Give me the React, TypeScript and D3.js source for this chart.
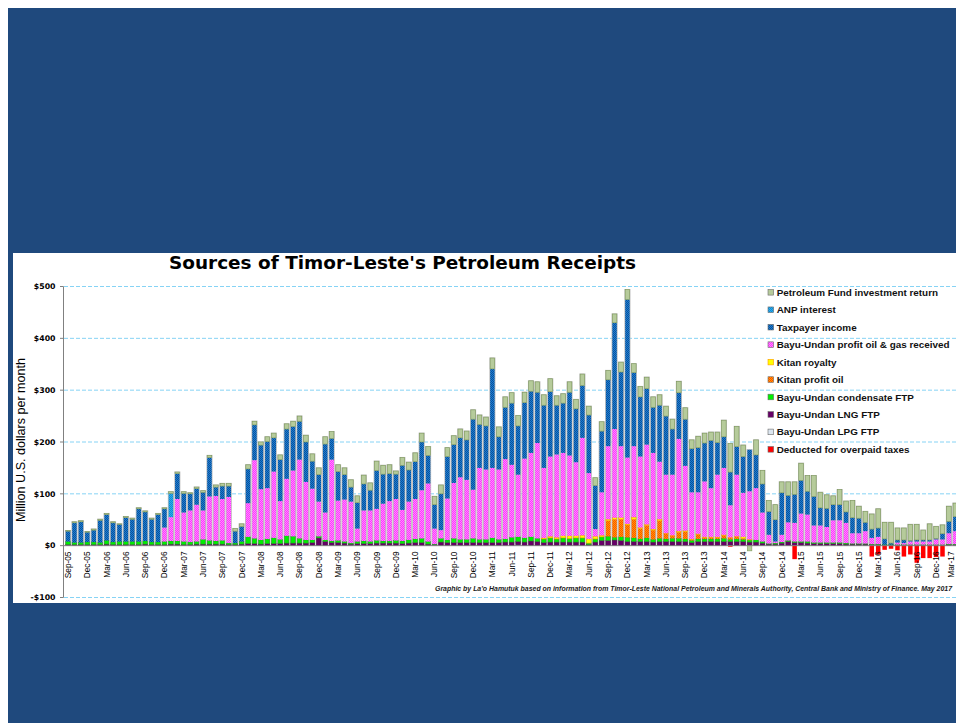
import React from "react";
import * as d3 from "d3";

const months: string[] = [
  "Sep-05","Oct-05","Nov-05","Dec-05",
  "Jan-06","Feb-06","Mar-06","Apr-06","May-06","Jun-06","Jul-06","Aug-06","Sep-06","Oct-06","Nov-06","Dec-06",
  "Jan-07","Feb-07","Mar-07","Apr-07","May-07","Jun-07","Jul-07","Aug-07","Sep-07","Oct-07","Nov-07","Dec-07",
  "Jan-08","Feb-08","Mar-08","Apr-08","May-08","Jun-08","Jul-08","Aug-08","Sep-08","Oct-08","Nov-08","Dec-08",
  "Jan-09","Feb-09","Mar-09","Apr-09","May-09","Jun-09","Jul-09","Aug-09","Sep-09","Oct-09","Nov-09","Dec-09",
  "Jan-10","Feb-10","Mar-10","Apr-10","May-10","Jun-10","Jul-10","Aug-10","Sep-10","Oct-10","Nov-10","Dec-10",
  "Jan-11","Feb-11","Mar-11","Apr-11","May-11","Jun-11","Jul-11","Aug-11","Sep-11","Oct-11","Nov-11","Dec-11",
  "Jan-12","Feb-12","Mar-12","Apr-12","May-12","Jun-12","Jul-12","Aug-12","Sep-12","Oct-12","Nov-12","Dec-12",
  "Jan-13","Feb-13","Mar-13","Apr-13","May-13","Jun-13","Jul-13","Aug-13","Sep-13","Oct-13","Nov-13","Dec-13",
  "Jan-14","Feb-14","Mar-14","Apr-14","May-14","Jun-14","Jul-14","Aug-14","Sep-14","Oct-14","Nov-14","Dec-14",
  "Jan-15","Feb-15","Mar-15","Apr-15","May-15","Jun-15","Jul-15","Aug-15","Sep-15","Oct-15","Nov-15","Dec-15",
  "Jan-16","Feb-16","Mar-16","Apr-16","May-16","Jun-16","Jul-16","Aug-16","Sep-16","Oct-16","Nov-16","Dec-16",
  "Jan-17","Feb-17","Mar-17",
];

// Values in million US$ per month, one per month from Sep-05
const lpgFTP = [
  0,0,0,0,0,0,0,0,0,0,0,0,
  0,0,0,0,0,0,0,0,0,0,0,0,
  0,0,0,0,0,0,0,0,0,0,0,0,
  0,0,0,0,0,0,0,0,0,0,0,0,
  0,0,0,0,0,0,0,0,0,1,0,0,
  0,0,0,0,0,0,0,0,0,0,2,0,
  0,0,0,0,0,0,0,0,0,0,0,0,
  0,0,0,0,0,0,0,0,0,0,0,0,
  0,0,0,0,0,0,0,0,0,0,0,0,
  0,0,0,0,0,0,0,0,0,0,0,0,
  0,0,0,0,0,0,0,0,0,0,0,0,
  0,0,0,0,0,0,0,
];
const lngFTP = [
  2,2,2,2,2,2,3,2,2,2,2,2,
  3,2,2,2,3,3,2,2,3,3,3,3,
  3,2,2,3,4,4,3,4,4,4,5,5,
  5,5,6,15,8,6,6,5,3,4,4,4,
  5,5,5,5,4,5,6,6,3,1,7,6,
  6,6,6,6,6,6,6,6,7,7,6,7,
  9,8,6,7,7,7,7,7,7,2,7,10,
  10,11,10,8,8,8,8,7,8,8,8,8,
  8,6,8,8,8,8,8,8,8,8,7,7,
  5,3,3,5,8,6,6,5,4,4,4,4,
  4,3,3,3,3,2,2,1,1,1,1,1,
  1,1,1,1,1,2,2,
];
const condensateFTP = [
  6,4,4,5,5,4,7,5,6,6,6,6,
  6,5,5,6,6,6,6,5,5,9,7,6,
  7,3,3,5,13,10,8,9,11,8,14,13,
  9,6,5,3,3,3,4,3,2,4,5,4,
  5,4,4,5,5,6,7,8,5,1,7,5,
  8,6,6,8,6,6,9,6,6,9,9,8,
  8,6,7,8,6,8,7,8,8,3,6,7,
  8,5,7,8,7,5,7,5,6,5,6,6,
  5,4,5,5,5,5,6,4,5,4,4,4,
  3,1,2,2,2,2,2,3,2,2,2,2,
  2,2,1,1,1,1,1,1,1,1,1,1,
  1,1,1,1,1,1,1,
];
const kitanProfitOil = [
  0,0,0,0,0,0,0,0,0,0,0,0,
  0,0,0,0,0,0,0,0,0,0,0,0,
  0,0,0,0,0,0,0,0,0,0,0,0,
  0,0,0,0,0,0,0,0,0,0,0,0,
  0,0,0,0,0,0,0,0,0,0,0,0,
  0,0,0,0,0,0,0,0,0,0,0,0,
  0,0,0,0,0,0,0,0,0,0,0,0,
  30,35,34,24,36,20,24,18,34,10,5,12,
  14,2,9,3,3,3,6,3,4,2,0,0,
  0,0,0,0,0,0,0,0,0,0,0,0,
  0,0,0,0,0,0,0,0,0,0,0,0,
  0,0,0,0,0,0,0,
];
const kitanRoyalty = [
  0,0,0,0,0,0,0,0,0,0,0,0,
  0,0,0,0,0,0,0,0,0,0,0,0,
  0,0,0,0,0,0,0,0,0,0,0,0,
  0,0,0,0,0,0,0,0,0,0,0,0,
  0,0,0,0,0,0,0,0,0,0,0,0,
  0,0,0,0,0,0,0,0,0,0,0,0,
  0,0,2,3,3,4,5,4,5,8,5,3,
  3,3,3,2,4,2,2,2,3,1,1,2,
  2,1,1,1,1,1,1,1,1,3,1,0,
  0,0,0,0,0,0,0,0,0,0,0,0,
  0,0,0,0,0,0,0,0,0,0,0,0,
  0,0,0,0,0,0,0,
];
const bayuUndanProfit = [
  0,0,0,0,0,0,0,0,0,0,0,0,
  0,0,0,27,46,81,56,61,71,56,85,87,
  80,89,0,0,65,151,98,98,128,74,110,127,
  152,112,99,67,53,157,77,81,80,25,59,60,
  61,72,77,80,60,74,77,93,112,30,16,80,
  107,120,115,94,138,135,135,135,154,140,120,153,
  162,184,135,154,160,160,155,142,188,127,14,83,
  141,171,138,128,137,137,154,147,111,113,117,178,
  125,90,80,107,94,120,129,62,119,85,93,100,
  56,17,3,14,35,36,54,52,33,33,30,43,
  43,39,20,20,24,12,14,0,0,4,3,6,
  6,6,6,10,10,21,25,
];
const taxpayerIncome = [
  20,38,40,19,23,43,50,37,33,46,43,63,
  56,44,53,36,0,49,37,32,31,35,75,17,
  25,21,23,29,66,68,85,90,65,80,96,85,
  74,77,53,52,132,41,56,48,28,50,51,39,
  74,57,53,48,86,61,72,93,54,46,70,81,
  74,76,77,136,84,84,191,63,100,119,94,108,
  119,98,121,125,95,96,122,103,101,112,84,118,
  128,205,143,305,142,115,108,88,109,113,88,89,
  90,84,86,74,92,62,60,64,54,70,80,64,
  55,45,42,81,52,55,64,45,56,34,36,30,
  30,21,30,29,17,17,17,11,3,5,6,2,
  3,3,3,2,11,23,28,
];
const anpInterest = [
  0,0,0,0,0,0,0,0,0,0,0,0,
  0,0,0,0,46,0,0,0,0,0,0,0,
  0,0,0,0,0,0,0,0,0,0,0,0,
  0,0,0,0,0,0,0,0,0,0,0,0,
  0,0,0,0,0,0,0,0,0,0,0,0,
  0,0,0,0,0,0,0,0,0,0,0,0,
  0,0,0,0,0,0,0,0,0,0,0,0,
  0,0,0,0,0,0,0,0,0,0,0,0,
  0,0,0,0,0,0,0,0,0,0,0,0,
  0,0,0,0,0,0,0,0,0,0,0,0,
  0,0,0,0,0,0,0,0,0,0,0,0,
  0,0,0,0,0,0,0,
];
const pfInvestmentReturn = [
  1,2,2,1,2,2,2,2,1,2,2,2,
  2,2,2,2,3,3,3,2,3,3,4,4,
  5,5,5,5,8,7,6,9,9,9,10,10,
  10,13,14,13,14,13,13,13,14,13,17,14,
  18,17,17,6,15,15,17,17,17,16,17,17,
  17,17,17,18,18,17,21,19,20,20,20,20,
  20,20,20,25,18,18,20,18,22,17,15,18,
  18,17,19,19,17,20,22,20,20,19,19,22,
  22,17,22,19,16,20,32,55,39,22,-10,29,
  26,21,29,21,26,24,33,30,40,30,26,17,
  29,21,33,23,21,29,37,32,40,23,23,31,
  30,19,31,23,17,29,26,
];
const deductedOverpaid = [
  0,0,0,0,0,0,0,0,0,0,0,0,
  0,0,0,0,0,0,0,0,0,0,0,0,
  0,0,0,0,0,0,0,0,0,0,0,0,
  0,0,0,0,0,0,0,0,0,0,0,0,
  0,0,0,0,0,0,0,0,0,0,0,0,
  0,0,0,0,0,0,0,0,0,0,0,0,
  0,0,0,0,0,0,0,0,0,0,0,0,
  0,0,0,0,0,0,0,0,0,0,0,0,
  0,0,0,0,0,0,0,-2,0,0,0,0,
  0,0,0,0,0,-26,0,0,0,0,0,0,
  0,0,0,0,0,-21,-17,-8,-6,-9,-21,-17,
  -33,-24,-24,-22,-21,0,0,
];

const yTicks = [-100, 0, 100, 200, 300, 400, 500];

const seriesDefs = [
  { key: "lpg", label: "Bayu-Undan LPG FTP", fill: "#DCE6F0", stroke: "#8E9AA6" },
  { key: "lng", label: "Bayu-Undan LNG FTP", fill: "#660066", stroke: "#4A004A" },
  { key: "cond", label: "Bayu-Undan condensate FTP", fill: "#00F000", stroke: "#2A9A2A" },
  { key: "kpo", label: "Kitan profit oil", fill: "url(#pKitan)", stroke: "none" },
  { key: "kroy", label: "Kitan royalty", fill: "#FFFF00", stroke: "#FF9900" },
  { key: "bu", label: "Bayu-Undan profit oil & gas received", fill: "url(#pMag)", stroke: "none" },
  { key: "tax", label: "Taxpayer income", fill: "url(#pTax)", stroke: "none" },
  { key: "anp", label: "ANP interest", fill: "url(#pAnp)", stroke: "none" },
  { key: "pf", label: "Petroleum Fund investment return", fill: "#B6CB9B", stroke: "#7F9A5C" },
  { key: "ded", label: "Deducted for overpaid taxes", fill: "#FF0000", stroke: "none" },
];
const legendOrder = ["pf", "anp", "tax", "bu", "kroy", "kpo", "cond", "lng", "lpg", "ded"];

export default function App() {
  const W = 956;
  const H = 723;
  const n = months.length;
  const step = 6.43;
  const x0 = 64.8;
  const x = d3
    .scaleBand<number>()
    .domain(d3.range(n))
    .range([x0, x0 + n * step])
    .paddingInner(0.3)
    .paddingOuter(0.15);
  const y = d3.scaleLinear().domain([-100, 500]).range([597.5, 286.5]);
  const bw = x.bandwidth();

  const rows = months.map((m, i) => ({
    month: m,
    lpg: lpgFTP[i],
    lng: lngFTP[i],
    cond: condensateFTP[i],
    kpo: kitanProfitOil[i],
    kroy: kitanRoyalty[i],
    bu: bayuUndanProfit[i],
    tax: taxpayerIncome[i],
    anp: anpInterest[i],
    pf: pfInvestmentReturn[i],
    ded: deductedOverpaid[i],
  }));
  const keys = seriesDefs.map((s) => s.key);
  const layers = d3
    .stack<any>()
    .keys(keys)
    .offset(d3.stackOffsetDiverging)(rows as any);

  const posTop = rows.map((_, i) => d3.max(layers, (l) => l[i][1]) as number);
  const defByKey: Record<string, any> = {};
  seriesDefs.forEach((s) => (defByKey[s.key] = s));

  const fmt = (v: number) => (v < 0 ? `-$${-v}` : `$${v}`);

  return (
    <svg
      width={W}
      height={H}
      style={{ position: "fixed", left: 0, top: 0, background: "#ffffff" }}
    >
      <defs>
        <pattern id="pTax" width="2" height="2" patternUnits="userSpaceOnUse">
          <rect width="2" height="2" fill="#1B7DD3" />
          <rect width="1" height="1" fill="#0C5199" />
          <rect x="1" y="1" width="1" height="1" fill="#0C5199" />
        </pattern>
        <pattern id="pAnp" width="2" height="2" patternUnits="userSpaceOnUse">
          <rect width="2" height="2" fill="#2AAEEE" />
          <rect width="1" height="1" fill="#1488D0" />
          <rect x="1" y="1" width="1" height="1" fill="#1488D0" />
        </pattern>
        <pattern id="pMag" width="2" height="2" patternUnits="userSpaceOnUse">
          <rect width="2" height="2" fill="#FF33FF" />
          <rect width="1" height="1" fill="#FF8CFF" />
          <rect x="1" y="1" width="1" height="1" fill="#FF8CFF" />
        </pattern>
        <pattern id="pKitan" width="2" height="2" patternUnits="userSpaceOnUse">
          <rect width="2" height="2" fill="#FFA000" />
          <rect width="1" height="1" fill="#FF4A00" />
          <rect x="1" y="1" width="1" height="1" fill="#FF4A00" />
        </pattern>
      </defs>

      {/* slide background */}
      <rect x={8} y={8} width={W - 8} height={H - 8} fill="#1F497D" />
      {/* chart panel */}
      <rect x={13} y={253} width={W - 13} height={350} fill="#FFFFFF" />

      {/* title */}
      <text
        x={402.5}
        y={268.5}
        textAnchor="middle"
        fontFamily="'DejaVu Sans', Verdana, sans-serif"
        fontWeight="bold"
        fontSize={18}
        textLength={467}
        lengthAdjust="spacingAndGlyphs"
        fill="#000"
      >
        Sources of Timor-Leste's Petroleum Receipts
      </text>

      {/* gridlines */}
      {yTicks
        .filter((t) => t !== 0)
        .map((t) => (
          <line
            key={"g" + t}
            x1={64}
            x2={W}
            y1={y(t)}
            y2={y(t)}
            stroke="#86D3F5"
            strokeWidth={1}
            strokeDasharray="4 2"
          />
        ))}

      {/* bar outlines */}
      {rows.map((r, i) => {
        const top = posTop[i];
        if (!top) return null;
        return (
          <rect
            key={"o" + i}
            x={(x(i) as number) - 0.8}
            y={y(top) - 0.6}
            width={bw + 1.6}
            height={y(0) - y(top) + 0.6}
            fill="#BDBDBD"
          />
        );
      })}

      {/* stacked segments */}
      {layers.map((layer) => {
        const def = defByKey[layer.key];
        return (
          <g key={layer.key}>
            {layer.map((d, i) => {
              const v0 = d[0];
              const v1 = d[1];
              if (v0 === v1) return null;
              const yt = y(Math.max(v0, v1));
              const yb = y(Math.min(v0, v1));
              return (
                <rect
                  key={i}
                  x={x(i) as number}
                  y={yt}
                  width={bw}
                  height={Math.max(0.5, yb - yt)}
                  fill={def.fill}
                  stroke={def.stroke}
                  strokeWidth={def.stroke === "none" ? 0 : 0.6}
                />
              );
            })}
          </g>
        );
      })}

      {/* axes */}
      <line x1={64} x2={W} y1={y(0)} y2={y(0)} stroke="#808080" strokeWidth={1} />
      <line x1={63.5} x2={63.5} y1={y(500)} y2={y(-100)} stroke="#808080" strokeWidth={1} />
      {yTicks.map((t) => (
        <g key={"t" + t}>
          <line x1={60} x2={63.5} y1={y(t)} y2={y(t)} stroke="#808080" strokeWidth={1} />
          <text
            x={55.5}
            y={y(t) + 2.8}
            textAnchor="end"
            fontFamily="'DejaVu Sans', Verdana, sans-serif"
            fontWeight="bold"
            fontSize={7.8}
            fill="#000"
          >
            {fmt(t)}
          </text>
        </g>
      ))}

      {/* x tick labels */}
      {months.map((m, i) =>
        i % 3 === 0 ? (
          <text
            key={"xl" + i}
            transform={`translate(${Math.min((x(i) as number) + bw / 2, 951)},551.5) rotate(-90)`}
            textAnchor="end"
            dy="0.35em"
            fontFamily="'Liberation Sans', Arial, sans-serif"
            fontSize={8.3}
            fill="#000"
          >
            {m}
          </text>
        ) : null
      )}

      {/* y axis title */}
      <text
        transform="translate(25,440) rotate(-90)"
        textAnchor="middle"
        fontFamily="'Liberation Sans', Arial, sans-serif"
        fontSize={12.5}
        textLength={164}
        lengthAdjust="spacingAndGlyphs"
        fill="#000"
      >
        Million U.S. dollars per month
      </text>

      {/* legend */}
      {legendOrder.map((k, j) => {
        const def = defByKey[k];
        const cy = 292.3 + j * 17.45;
        return (
          <g key={"lg" + k}>
            <rect
              x={768}
              y={cy - 2.8}
              width={5.6}
              height={5.6}
              fill={def.fill}
              stroke={k === "kroy" ? "#FF9900" : "#6B6B6B"}
              strokeWidth={0.6}
            />
            <text
              x={776.7}
              y={cy + 3.5}
              fontFamily="'Liberation Sans', Arial, sans-serif"
              fontWeight="bold"
              fontSize={9.9}
              fill="#111"
            >
              {def.label}
            </text>
          </g>
        );
      })}

      {/* source note */}
      <text
        x={435}
        y={590.5}
        fontFamily="'Liberation Sans', Arial, sans-serif"
        fontWeight="bold"
        fontStyle="italic"
        fontSize={6.5}
        textLength={517}
        lengthAdjust="spacingAndGlyphs"
        fill="#1A1A1A"
      >
        Graphic by La'o Hamutuk based on information from Timor-Leste National Petroleum and Minerals Authority, Central Bank and Ministry of Finance. May 2017
      </text>
    </svg>
  );
}
